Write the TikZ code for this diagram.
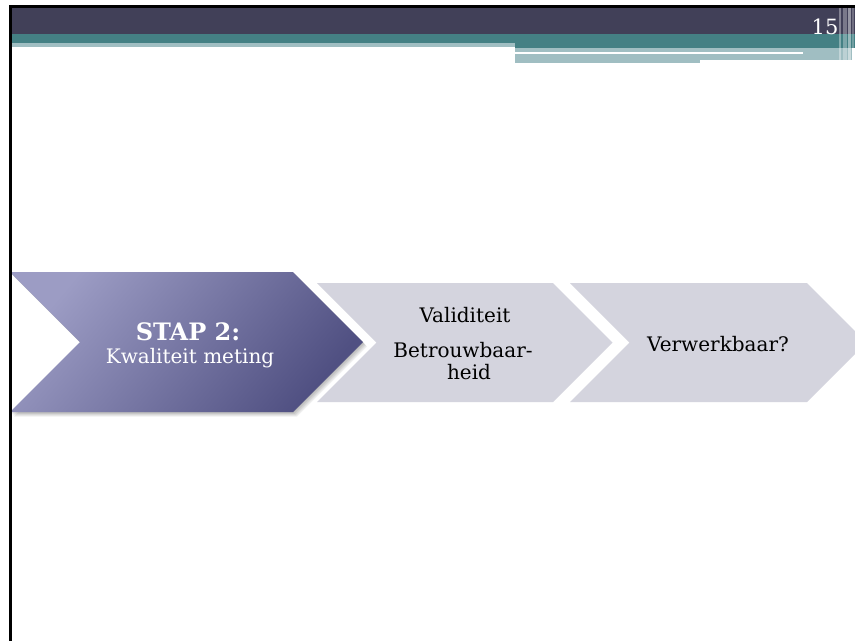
\documentclass[tikz,border=0pt]{standalone}
\usepackage{fontspec}
\setmainfont{DejaVu Serif}
\definecolor{hdark}{RGB}{65,64,88}
\definecolor{hteal}{RGB}{68,128,132}
\definecolor{hlight}{RGB}{160,190,194}
\definecolor{chgrey}{RGB}{212,212,222}
\definecolor{purlight}{RGB}{156,156,196}
\definecolor{purdark}{RGB}{80,80,130}
\tikzset{
  greychev/.style={fill=chgrey},
  txt/.style={anchor=base, inner sep=0pt, font=\fontsize{20}{23}\selectfont, text=black},
  whitetxt/.style={anchor=base, inner sep=0pt, text=white},
}
\begin{document}
\begin{tikzpicture}[x=1pt,y=-1pt]
\useasboundingbox (0,0) rectangle (855,641);
\fill[white] (0,0) rectangle (855,641);
% header
\fill[hdark] (12,8) rectangle (855,34);
\fill[hteal] (12,34) rectangle (855,43);
\fill[hteal] (515,43) rectangle (855,48);
\fill[hlight] (12,43) rectangle (515,47);
\fill[hlight] (515,48) rectangle (852,60);
\fill[hlight] (515,60) rectangle (700,63);
\fill[white] (515,51.5) rectangle (803,53.5);
\foreach \xa/\xb/\op in {839/841/0.35, 843/847/0.3, 848/851/0.45, 852/854/0.25}
  \fill[white, opacity=\op] (\xa,8) rectangle (\xb,63);
\node[whitetxt, font=\fontsize{21}{24}\selectfont] (pg) at (825,34) {15};
% chevrons
\path[greychev] (570,283) -- (807,283) -- (866.5,342.5) -- (807,402) -- (570,402) -- (629.5,342.5) -- cycle;
\path[greychev] (317,283) -- (553,283) -- (612.5,342.5) -- (553,402) -- (317,402) -- (376.5,342.5) -- cycle;
% soft shadow
\foreach \s in {1,2,3,4,5}
  \fill[black, opacity=0.06, shift={(\s*0.8,\s*0.9)}]
    (10,272) -- (293,272) -- (363,342) -- (293,412) -- (10,412) -- (80,342) -- cycle;
\shade[top color=purlight, bottom color=purdark, shading angle=50]
  (10,272) -- (293,272) -- (363,342) -- (293,412) -- (10,412) -- (80,342) -- cycle;
% texts
\node[whitetxt, font=\fontsize{24}{28}\selectfont\bfseries] (stap) at (188,340) {STAP 2:};
\node[whitetxt, font=\fontsize{20}{23}\selectfont] (kwal) at (190,363) {Kwaliteit meting};
\node[txt] (val) at (465,322) {Validiteit};
\node[txt] (bet) at (463,357) {Betrouwbaar-};
\node[txt] (heid) at (469,379) {heid};
\node[txt] (verw) at (718,351) {Verwerkbaar?};
% frame
\fill[black] (9,5) rectangle (855,8);
\fill[black] (9,5) rectangle (12,641);
\end{tikzpicture}
\end{document}
